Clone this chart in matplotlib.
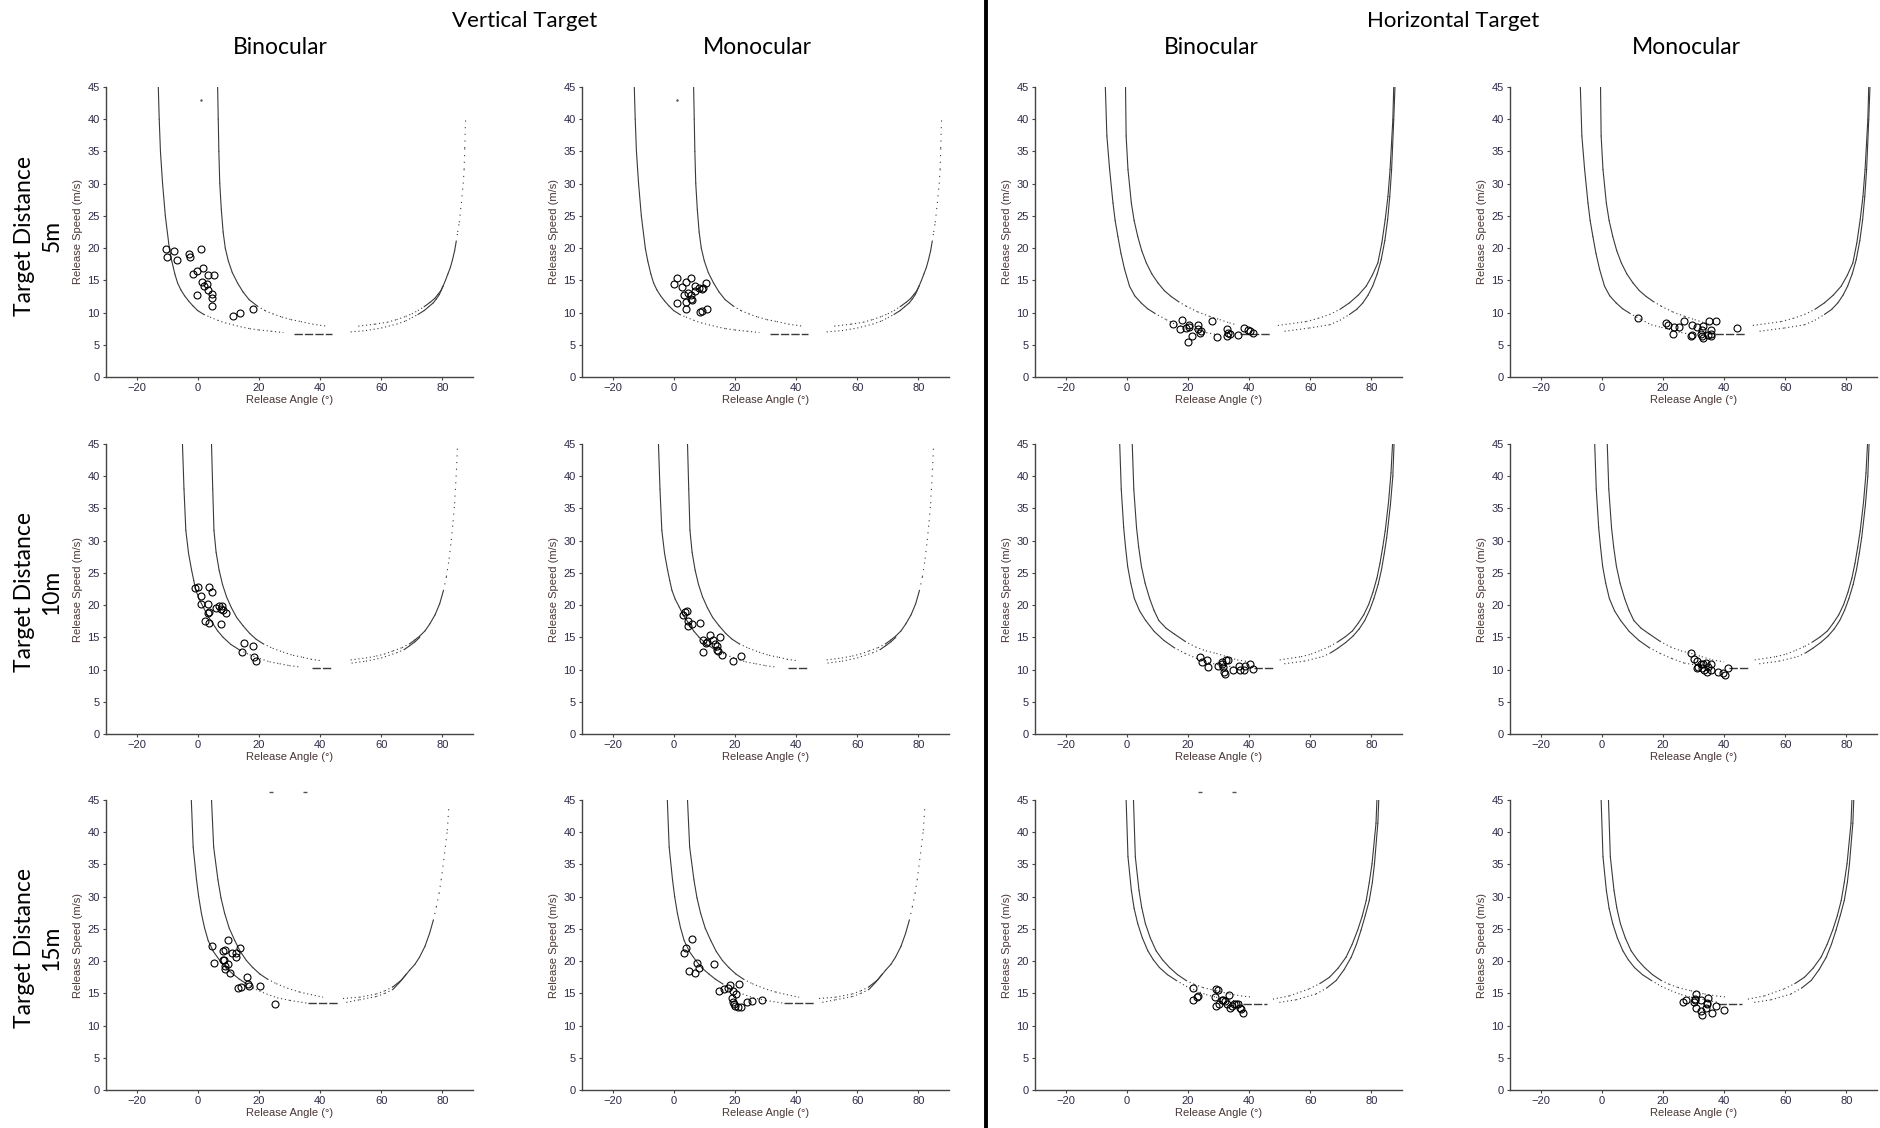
import matplotlib.pyplot as plt
from matplotlib.lines import Line2D

# envelope curves, (release angle deg, release speed m/s)
V5_LOWER_LEFT = [(-12.9, 45), (-12.6, 40), (-12.2, 35), (-11.5, 30), (-10.6, 25), (-9.3, 20), (-8.5, 18), (-7.5, 16),
                 (-6.6, 14.6), (-5.5, 13.5), (-4.3, 12.6), (-3.0, 11.8), (-1.5, 11.0), (0.0, 10.3), (2.0, 9.7),
                 (4.0, 9.3), (6.5, 8.8), (9.0, 8.4), (11.5, 8.1), (14.0, 7.8), (17.0, 7.5), (20.0, 7.3), (24.0, 7.1),
                 (28.0, 6.9)]
V5_UPPER_LEFT = [(6.5, 45), (6.7, 40), (6.9, 35), (7.2, 30), (7.7, 26), (8.3, 22.5), (9.0, 20), (10.0, 18),
                 (11.3, 16.2), (13.0, 14.6), (14.8, 13.2), (16.8, 12.0), (19.5, 11.0), (22.0, 10.3), (24.5, 9.8),
                 (27.5, 9.3), (30.5, 8.9), (33.7, 8.6), (37.5, 8.2), (42.0, 7.9)]
V5_LOWER_RIGHT = [(50.0, 7.0), (55.0, 7.2), (60.0, 7.6), (65.0, 8.2), (68.0, 8.7), (70.0, 9.2), (72.0, 9.7),
                  (74.0, 10.3), (75.5, 10.9), (77.0, 11.5), (78.0, 12.1), (79.0, 12.8), (80.2, 14.1)]
V5_UPPER_RIGHT = [(52.5, 7.9), (58.0, 8.2), (62.0, 8.5), (65.0, 8.9), (68.0, 9.4), (70.0, 9.8), (72.0, 10.3),
                  (74.0, 10.9), (76.0, 11.6), (77.5, 12.2), (78.5, 12.8), (79.5, 13.4), (80.2, 14.1), (81.0, 15.0),
                  (81.8, 16.0), (82.6, 17.0), (83.3, 18.2), (84.0, 19.6), (84.5, 21.0), (85.0, 22.5), (85.5, 24.0),
                  (86.2, 27.0), (86.8, 30.0), (87.1, 32.2), (87.3, 35.5), (87.6, 40.5)]
V5_FLOOR = (6.7, 31.5, 44.0)

V10_LOWER_LEFT = [(-5.0, 45), (-4.5, 38), (-3.9, 31.6), (-3.0, 28.0), (-2.0, 25.4), (-1.3, 23.8), (-0.6, 22.3),
                  (0.5, 20.9), (1.8, 19.7), (3.3, 18.3), (5.0, 17.1), (6.5, 16.0), (8.3, 15.0), (10.8, 13.9),
                  (13.8, 13.0), (17.0, 12.3), (20.3, 11.7), (23.5, 11.2), (26.8, 10.9), (30.0, 10.6), (33.4, 10.4)]
V10_UPPER_LEFT = [(4.5, 45), (4.9, 38), (5.3, 31.6), (6.0, 28.2), (7.0, 25.4), (8.1, 23.2), (9.4, 21.3), (11.0, 19.6),
                  (12.7, 18.1), (14.8, 16.8), (17.0, 15.6), (19.1, 14.7), (21.4, 14.0), (24.5, 13.3), (27.9, 12.7),
                  (31.2, 12.2), (34.4, 11.9), (37.0, 11.6), (39.9, 11.4)]
V10_LOWER_RIGHT = [(50.3, 11.0), (55.0, 11.3), (60.0, 11.8), (65.0, 12.6), (67.5, 13.1), (69.3, 13.7), (71.0, 14.3),
                   (72.6, 15.0)]
V10_UPPER_RIGHT = [(50.0, 11.5), (55.0, 11.8), (58.4, 12.1), (61.0, 12.4), (63.9, 12.9), (66.8, 13.4), (69.3, 14.0),
                   (71.0, 14.6), (72.6, 15.2), (74.3, 16.0), (75.9, 17.1), (77.6, 18.5), (79.1, 20.2), (80.3, 22.2),
                   (81.3, 24.4), (82.2, 27.2), (82.9, 30.1), (83.5, 33.0), (84.0, 35.8), (84.6, 41.0), (84.9, 44.3)]
V10_FLOOR = (10.3, 37.4, 43.7)

V15_LOWER_LEFT = [(-2.1, 45), (-1.5, 37.7), (-0.4, 32.6), (0.3, 30.0), (1.2, 27.4), (2.2, 25.2), (3.4, 23.2),
                  (5.1, 21.5), (7.2, 20.1), (9.3, 18.9), (11.5, 18.0), (13.6, 17.2), (15.9, 16.5), (19.0, 15.6),
                  (22.5, 14.9), (26.0, 14.3), (30.1, 13.9), (35.5, 13.5)]
V15_UPPER_LEFT = [(4.5, 45), (5.2, 37.7), (6.6, 32.6), (7.6, 29.8), (8.8, 27.4), (10.3, 25.1), (12.1, 23.2),
                  (13.9, 21.5), (15.9, 20.1), (18.0, 19.0), (20.3, 18.0), (22.8, 17.2), (25.7, 16.5), (29.3, 15.8),
                  (33.3, 15.2), (37.0, 14.8), (41.0, 14.4)]
V15_LOWER_RIGHT = [(48.6, 13.6), (52.9, 14.0), (58.4, 14.5), (61.2, 15.0), (63.8, 15.6), (66.0, 16.7), (68.2, 18.0)]
V15_UPPER_RIGHT = [(47.5, 14.2), (52.9, 14.4), (58.4, 14.9), (61.2, 15.4), (63.8, 16.0), (66.7, 17.1), (69.3, 18.6),
                   (71.0, 19.5), (72.5, 20.6), (74.3, 22.3), (75.8, 24.3), (77.0, 26.3), (78.0, 28.4), (78.9, 30.5),
                   (79.6, 32.6), (80.7, 36.7), (81.6, 40.3), (82.1, 44.0)]
V15_FLOOR = (13.5, 36.0, 46.2)

H5_LOWER_LEFT = [(-7.0, 45), (-6.5, 37.4), (-5.6, 32.2), (-4.5, 27.0), (-3.8, 24.3), (-2.9, 21.8), (-1.9, 19.2),
                 (-0.7, 16.7), (0.9, 14.1), (2.6, 12.6), (4.7, 11.5), (6.8, 10.6), (9.1, 9.9), (12.9, 8.9),
                 (16.2, 8.1), (19.5, 7.7), (22.7, 7.3), (26.0, 6.9), (29.2, 6.6)]
H5_UPPER_LEFT = [(-0.4, 45), (-0.2, 37.4), (0.4, 32.2), (1.5, 27.0), (2.4, 24.3), (3.6, 21.8), (4.9, 19.6),
                 (6.4, 17.7), (8.2, 16.0), (10.2, 14.6), (12.3, 13.4), (14.5, 12.5), (16.9, 11.7), (19.4, 11.0),
                 (23.2, 10.1), (27.1, 9.4), (30.4, 8.9), (33.6, 8.4), (35.8, 8.1)]
H5_LOWER_RIGHT = [(51.6, 7.1), (59.7, 7.6), (66.3, 8.1), (69.7, 8.8), (72.8, 9.7), (75.2, 10.5), (77.2, 11.5),
                  (78.9, 12.7), (80.4, 14.1), (81.9, 16.0), (83.2, 18.2), (84.4, 21.2), (85.3, 24.4), (86.0, 28.0),
                  (86.6, 32.2), (87.3, 39.9), (87.7, 45)]
H5_UPPER_RIGHT = [(49.4, 8.0), (58.7, 8.6), (62.6, 9.1), (66.3, 9.7), (69.7, 10.5), (72.8, 11.5), (75.7, 12.7),
                  (78.3, 14.1), (80.3, 15.8), (82.1, 17.7), (83.4, 20.8), (84.5, 24.4), (85.4, 28.0), (86.1, 32.2),
                  (87.0, 39.9), (87.3, 45)]
H5_FLOOR = (6.6, 36.9, 46.7)

H10_LOWER_LEFT = [(-2.3, 45), (-1.8, 38), (-1.0, 32), (-0.4, 29), (0.3, 26), (1.3, 23.4), (2.5, 21), (4.2, 19.1),
                  (6.2, 17.6), (9.0, 15.9), (12.2, 14.5), (15.5, 13.4), (19.1, 12.5), (23.0, 11.7), (27.0, 11.0),
                  (31.0, 10.7), (35.0, 10.4)]
H10_UPPER_LEFT = [(1.8, 45), (2.3, 38), (3.2, 32), (3.9, 29), (4.8, 26), (6.0, 23.4), (7.5, 21), (8.9, 19.2),
                  (10.5, 17.6), (12.9, 16.4), (15.6, 15.5), (19.0, 14.4), (22.5, 13.5), (25.9, 12.9), (29.3, 12.5),
                  (32.7, 12.0), (36.1, 11.5), (40.0, 11.2)]
H10_LOWER_RIGHT = [(51.5, 10.9), (58.0, 11.3), (64.0, 12.0), (66.7, 12.6), (69.0, 13.3), (71.6, 14.2), (74.0, 15.2),
                   (76.0, 16.3), (77.8, 17.6), (79.4, 19.2), (80.8, 21.0), (82.2, 23.2), (83.3, 25.5), (84.2, 28.0),
                   (85.0, 30.5), (86.2, 35.5), (87.0, 40.0), (87.4, 45)]
H10_UPPER_RIGHT = [(50.0, 11.5), (57.0, 12.0), (60.3, 12.4), (63.5, 13.0), (66.4, 13.6), (69.0, 14.3), (71.5, 15.1),
                   (73.8, 16.0), (75.7, 17.2), (77.5, 18.5), (79.1, 20.1), (80.5, 22.0), (81.8, 24.2), (82.8, 26.5),
                   (83.7, 29.0), (84.5, 31.5), (85.6, 36.0), (86.4, 40.5), (86.9, 45)]
H10_FLOOR = (10.3, 41.5, 48.0)

H15_LOWER_LEFT = [(-0.2, 45), (0.4, 36.2), (1.5, 31.0), (2.4, 28.2), (3.6, 25.8), (5.1, 23.6), (6.9, 21.6),
                  (8.7, 20.2), (10.7, 19.0), (13.3, 17.9), (16.2, 17.0), (19.4, 16.1), (22.7, 15.4), (26.0, 14.8),
                  (29.2, 14.4), (33.5, 14.0), (37.9, 13.6)]
H15_UPPER_LEFT = [(2.2, 45), (2.8, 36.2), (4.0, 31.0), (4.9, 28.3), (6.1, 25.8), (7.7, 23.6), (9.6, 21.6),
                  (11.7, 20.2), (14.0, 19.0), (16.6, 17.9), (19.4, 17.0), (22.1, 16.4), (24.9, 15.9), (29.2, 15.4),
                  (33.6, 14.9), (37.4, 14.6), (41.2, 14.4)]
H15_LOWER_RIGHT = [(49.9, 13.6), (55.4, 14.0), (61.9, 14.9), (65.3, 15.8), (68.5, 17.0), (71.1, 18.7), (73.4, 20.6),
                   (75.1, 22.6), (76.6, 24.8), (78.0, 27.1), (79.3, 29.4), (80.3, 32.2), (81.0, 35.1), (82.1, 41.4),
                   (82.4, 45)]
H15_UPPER_RIGHT = [(47.8, 14.1), (53.2, 14.6), (59.7, 15.7), (63.1, 16.5), (66.3, 17.5), (69.1, 18.9), (71.7, 20.6),
                   (73.7, 22.6), (75.5, 24.8), (77.0, 27.0), (78.3, 29.4), (79.3, 32.2), (80.2, 35.1), (81.5, 41.4),
                   (81.8, 45)]
H15_FLOOR = (13.3, 37.9, 45.8)

# throws, (release angle deg, release speed m/s)
V5_BIN = [(-10.4, 19.8), (-10.2, 18.6), (-7.9, 19.6), (-6.8, 18.2), (-2.8, 19.1), (-2.6, 18.6), (1.2, 19.8),
          (-1.5, 16.0), (-0.2, 16.5), (1.6, 16.9), (3.2, 15.9), (5.2, 15.9), (1.4, 14.7), (2.0, 14.1), (3.0, 14.5),
          (3.3, 13.5), (4.5, 12.9), (4.8, 12.2), (4.6, 11.0), (-0.4, 12.8), (11.4, 9.4), (13.8, 9.9), (18.0, 10.6)]
V5_MON = [(0.2, 14.5), (1.2, 15.3), (2.7, 14.0), (4.0, 14.7), (5.8, 15.4), (6.8, 14.1), (10.5, 14.6), (3.4, 12.7),
          (4.8, 13.0), (5.6, 12.8), (7.0, 13.3), (8.2, 13.8), (9.2, 13.6), (1.2, 11.5), (4.0, 11.6), (5.7, 12.1),
          (4.1, 10.5), (8.7, 10.1), (9.2, 10.2), (10.8, 10.6), (9.5, 13.8), (5.9, 12.0)]
H5_BIN = [(15.1, 8.3), (18.1, 8.8), (17.5, 7.4), (19.4, 7.6), (20.5, 8.1), (20.3, 7.7), (21.4, 6.4), (19.9, 5.4),
          (23.4, 8.1), (23.2, 7.4), (24.4, 7.2), (24.1, 6.8), (28.0, 8.7), (29.5, 6.2), (32.8, 7.4), (33.1, 6.8),
          (32.7, 6.3), (33.8, 6.6), (36.4, 6.5), (38.5, 7.6), (39.7, 7.3), (40.2, 7.2), (41.3, 6.8)]
H5_MON = [(11.9, 9.2), (20.9, 8.4), (21.7, 8.0), (23.6, 7.8), (25.2, 7.7), (23.3, 6.7), (26.9, 8.7), (29.6, 8.0),
          (31.0, 7.7), (33.0, 7.9), (32.9, 7.3), (29.6, 6.5), (29.2, 6.3), (32.6, 6.7), (32.7, 6.3), (33.0, 6.1),
          (35.1, 8.7), (35.7, 7.3), (35.6, 6.7), (35.8, 6.3), (37.3, 8.7), (44.3, 7.6), (34.8, 6.5)]

V10_BIN = [(-0.9, 22.7), (0.1, 22.8), (0.9, 21.4), (1.2, 20.1), (3.7, 22.8), (4.8, 22.0), (3.5, 20.1), (3.7, 18.9),
           (3.5, 18.7), (2.5, 17.6), (3.7, 17.3), (6.1, 19.5), (6.9, 19.9), (7.8, 19.9), (7.5, 19.4), (8.3, 19.2),
           (9.4, 18.8), (7.5, 17.1), (14.4, 12.8), (15.2, 14.1), (18.1, 13.7), (18.3, 12.0), (19.0, 11.4)]
V10_MON = [(2.9, 18.4), (3.8, 19.0), (4.4, 19.1), (4.6, 17.5), (4.8, 16.7), (6.1, 17.0), (8.6, 17.2), (9.7, 14.6),
           (10.5, 14.1), (11.9, 15.4), (12.9, 14.6), (13.6, 14.0), (14.1, 13.6), (15.0, 15.0), (14.1, 13.0),
           (15.7, 12.3), (9.7, 12.7), (19.3, 11.4), (22.1, 12.1), (14.4, 12.9), (10.8, 14.3)]
H10_BIN = [(23.9, 11.9), (24.5, 11.2), (26.4, 11.5), (26.7, 10.4), (29.7, 10.6), (31.0, 11.2), (31.4, 10.4),
           (32.4, 11.5), (33.1, 11.5), (31.9, 9.6), (32.1, 9.3), (34.8, 10.0), (36.7, 10.6), (37.0, 10.0),
           (38.2, 10.0), (38.7, 10.5), (40.4, 10.8), (41.3, 10.1), (31.0, 10.8)]
H10_MON = [(29.2, 12.5), (30.1, 11.7), (31.1, 11.4), (32.3, 10.9), (31.5, 10.4), (33.2, 10.8), (34.0, 11.0),
           (33.5, 10.0), (34.9, 10.4), (35.7, 10.9), (35.6, 9.9), (32.8, 10.2), (31.1, 10.3), (38.0, 9.6),
           (39.7, 9.4), (40.4, 9.1), (41.4, 10.2), (34.5, 9.6)]

V15_BIN = [(4.8, 22.4), (5.3, 19.7), (8.3, 21.6), (8.1, 20.2), (8.5, 20.1), (9.0, 21.7), (9.8, 23.2), (9.0, 18.8),
           (10.0, 19.6), (10.7, 18.1), (11.1, 21.3), (12.4, 21.2), (12.6, 20.6), (13.7, 22.0), (13.0, 15.9),
           (14.0, 16.0), (16.1, 17.5), (16.4, 16.5), (16.8, 16.1), (20.3, 16.1), (25.3, 13.3), (8.8, 19.3)]
V15_MON = [(3.4, 21.3), (4.1, 22.0), (6.0, 23.4), (5.1, 18.5), (7.1, 18.2), (7.6, 19.7), (8.2, 18.9), (13.0, 19.6),
           (14.9, 15.4), (16.3, 15.6), (17.8, 15.8), (18.5, 16.3), (19.5, 15.4), (21.2, 16.5), (19.0, 14.3),
           (20.4, 14.9), (19.8, 13.3), (20.1, 13.1), (21.0, 12.9), (22.1, 12.9), (23.9, 13.7), (25.6, 13.8),
           (28.9, 13.9), (19.3, 13.6)]
H15_BIN = [(21.6, 15.8), (21.6, 13.9), (22.9, 14.5), (23.2, 14.6), (28.7, 14.5), (29.2, 15.6), (29.8, 15.5),
           (29.2, 13.1), (30.3, 13.4), (31.4, 13.9), (32.0, 13.8), (32.7, 13.3), (33.4, 14.8), (33.8, 12.7),
           (34.5, 13.1), (35.0, 13.3), (35.6, 13.4), (36.3, 13.3), (36.9, 12.8), (37.4, 12.6), (37.9, 12.0),
           (31.0, 14.0)]
H15_MON = [(26.6, 13.7), (27.5, 13.9), (30.1, 13.7), (30.7, 14.9), (30.6, 14.1), (30.8, 12.7), (32.4, 14.0),
           (32.4, 12.3), (32.7, 11.7), (34.0, 12.8), (34.3, 13.3), (34.9, 14.3), (34.5, 13.5), (36.2, 11.9),
           (37.5, 13.0), (39.9, 12.4), (30.4, 13.9)]

# odd specks in the original
V5_SPECK = [(0.9, 43.0)]
R15_BIN_SPECK = [(24.0, 46.2), (35.0, 46.2)]

DISTANCES = [5, 10, 15]
ANGLE_TICKS = [-20, 0, 20, 40, 60, 80]
SPEED_TICKS = [0, 5, 10, 15, 20, 25, 30, 35, 40, 45]

CURVES = {
    ('V', 5): (V5_LOWER_LEFT, V5_UPPER_LEFT, V5_LOWER_RIGHT, V5_UPPER_RIGHT, V5_FLOOR),
    ('V', 10): (V10_LOWER_LEFT, V10_UPPER_LEFT, V10_LOWER_RIGHT, V10_UPPER_RIGHT, V10_FLOOR),
    ('V', 15): (V15_LOWER_LEFT, V15_UPPER_LEFT, V15_LOWER_RIGHT, V15_UPPER_RIGHT, V15_FLOOR),
    ('H', 5): (H5_LOWER_LEFT, H5_UPPER_LEFT, H5_LOWER_RIGHT, H5_UPPER_RIGHT, H5_FLOOR),
    ('H', 10): (H10_LOWER_LEFT, H10_UPPER_LEFT, H10_LOWER_RIGHT, H10_UPPER_RIGHT, H10_FLOOR),
    ('H', 15): (H15_LOWER_LEFT, H15_UPPER_LEFT, H15_LOWER_RIGHT, H15_UPPER_RIGHT, H15_FLOOR),
}
THROWS = {
    ('V', 5): (V5_BIN, V5_MON), ('V', 10): (V10_BIN, V10_MON), ('V', 15): (V15_BIN, V15_MON),
    ('H', 5): (H5_BIN, H5_MON), ('H', 10): (H10_BIN, H10_MON), ('H', 15): (H15_BIN, H15_MON),
}
V_SPARSE_ABOVE = {5: 20, 10: 22, 15: 26}   # right branch of the vertical target gets sparse dots up top

W, H = 1881, 1128
COL_LEFT = [106, 582, 1035, 1510]
ROW_TOP = [87, 444, 800]
AX_W, AX_H = 367, 290

CURVE_COLOR = '#3a3a3a'
TICK_COLOR = '#2c2a45'
LABEL_COLOR = '#4a3636'


def draw_curve(ax, pts, sparse_above=None):
    # steep stretches look solid in the original, flat stretches dotted
    for (a0, s0), (a1, s1) in zip(pts[:-1], pts[1:]):
        slope = abs(s1 - s0) / max(abs(a1 - a0), 1e-6)
        if sparse_above is not None and min(s0, s1) >= sparse_above:
            ls = (0, (1, 5))
        elif slope > 0.3:
            ls = '-'
        else:
            ls = (0, (1, 2.5))
        ax.plot([a0, a1], [s0, s1], color=CURVE_COLOR, lw=0.8, linestyle=ls, solid_capstyle='round')


def draw_panel(ax, target, dist, view):
    lo_l, up_l, lo_r, up_r, floor = CURVES[(target, dist)]
    draw_curve(ax, lo_l)
    draw_curve(ax, up_l)
    sparse = V_SPARSE_ABOVE[dist] if target == 'V' else None
    draw_curve(ax, lo_r, sparse)
    draw_curve(ax, up_r, sparse)
    ax.plot([floor[1], floor[2]], [floor[0], floor[0]], color=CURVE_COLOR, lw=1.0, linestyle=(0, (6, 1.5)))

    pts = THROWS[(target, dist)][0 if view == 'BIN' else 1]
    ax.plot([p[0] for p in pts], [p[1] for p in pts], linestyle='none', marker='o', ms=5,
            mfc='none', mec='black', mew=0.8)

    if target == 'V' and dist == 5:
        ax.plot([p[0] for p in V5_SPECK], [p[1] for p in V5_SPECK], linestyle='none', marker='.', ms=1.5,
                color='#555555')
    if dist == 15 and view == 'BIN':
        ax.plot([p[0] for p in R15_BIN_SPECK], [p[1] for p in R15_BIN_SPECK], linestyle='none', marker='_',
                ms=3, color='#555555', clip_on=False)

    ax.set_xlim(-30, 90)
    ax.set_ylim(0, 45)
    ax.set_xticks(ANGLE_TICKS)
    ax.set_yticks(SPEED_TICKS)
    for side in ('top', 'right'):
        ax.spines[side].set_visible(False)
    for side in ('left', 'bottom'):
        ax.spines[side].set_color('#444444')
        ax.spines[side].set_linewidth(1.0)
    ax.tick_params(labelsize=8, colors='#444444', labelcolor=TICK_COLOR, length=2.5, width=0.8, pad=2)
    ax.set_xlabel('Release Angle (°)', fontsize=8, color=LABEL_COLOR, labelpad=1)
    ax.set_ylabel('Release Speed (m/s)', fontsize=8, color=LABEL_COLOR, labelpad=3)


def main():
    plt.rcParams['font.family'] = ['Liberation Sans', 'DejaVu Sans']
    fig = plt.figure(figsize=(W / 100, H / 100), dpi=100)

    for r, dist in enumerate(DISTANCES):
        for c in range(4):
            target = 'V' if c < 2 else 'H'
            view = 'BIN' if c % 2 == 0 else 'MON'
            ax = fig.add_axes([COL_LEFT[c] / W, 1 - (ROW_TOP[r] + AX_H) / H, AX_W / W, AX_H / H])
            draw_panel(ax, target, dist, view)

    head = dict(family=['Lato', 'DejaVu Sans'], color='black', ha='center', va='center')
    fig.text(525 / W, 1 - 21 / H, 'Vertical Target', fontsize=16, **head)
    fig.text(1453 / W, 1 - 21 / H, 'Horizontal Target', fontsize=16, **head)
    for x, name in zip([280, 757, 1211, 1686], ['Binocular', 'Monocular', 'Binocular', 'Monocular']):
        fig.text(x / W, 1 - 47 / H, name, fontsize=16.5, **head)
    for y, dist in zip([236, 592, 948], DISTANCES):
        fig.text(38 / W, 1 - y / H, 'Target Distance\n%dm' % dist, fontsize=16.5, rotation=90,
                 multialignment='center', linespacing=1.4, **head)

    fig.add_artist(Line2D([986 / W, 986 / W], [0, 1], transform=fig.transFigure, color='black', lw=2.8))

    plt.savefig('out.png', dpi=100)


if __name__ == '__main__':
    main()
